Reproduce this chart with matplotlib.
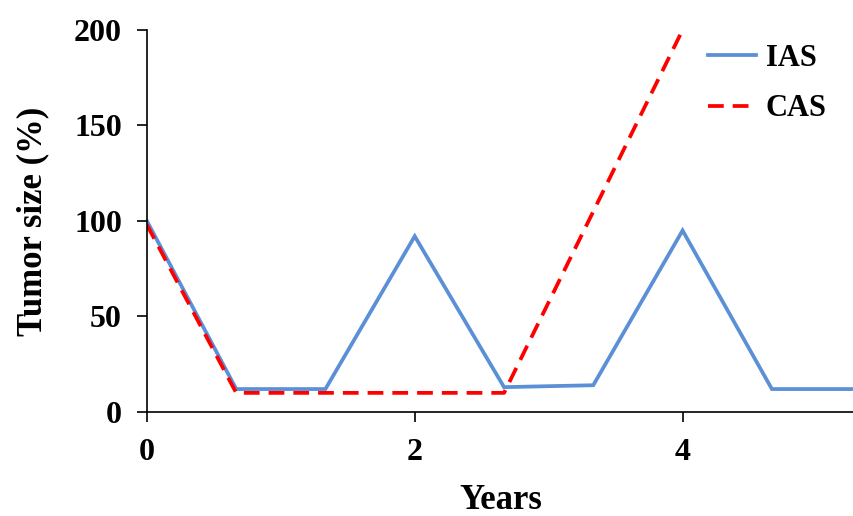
import matplotlib
matplotlib.use('Agg')
import matplotlib.pyplot as plt

plt.rcParams['font.family'] = ['Liberation Serif', 'DejaVu Serif']
plt.rcParams['font.weight'] = 'bold'

# data
ias_x = [0, 0.667, 1.333, 2.0, 2.667, 3.333, 4.0, 4.667, 5.4]
ias_y = [100, 12, 12, 92, 13, 14, 95, 12, 12]
cas_x = [0, 0.667, 2.667, 4.0]
cas_y = [98, 10, 10, 200]
xticks = [0, 2, 4]
yticks = [0, 50, 100, 150, 200]

fig = plt.figure(figsize=(8.54, 5.16), dpi=100)
ax = fig.add_axes([0.172, 0.2016, 0.828, 0.7404])
ax.plot(ias_x, ias_y, color='#5b8fd6', lw=2.7, label='IAS', solid_joinstyle='miter')
ax.plot(cas_x, cas_y, color='#ff0000', lw=2.7, ls=(0, (4.2, 2.4)), label='CAS')

ax.set_xlim(0, 5.28)
ax.set_ylim(0, 200)
ax.set_xticks(xticks)
ax.set_yticks(yticks)
ax.spines['top'].set_visible(False)
ax.spines['right'].set_visible(False)
for s in ['left', 'bottom']:
    ax.spines[s].set_linewidth(1.2)
ax.tick_params(axis='both', direction='out', length=7, width=1.2, labelsize=23)
ax.tick_params(axis='y', pad=11)
ax.tick_params(axis='x', pad=12)
ax.set_xlabel('Years', fontsize=25, fontweight='bold', labelpad=12)
ax.set_ylabel('Tumor size (%)', fontsize=25, fontweight='bold', labelpad=18)

ax.legend(loc='upper right', bbox_to_anchor=(1.0, 1.035), frameon=False, fontsize=22,
          handlelength=1.6, labelspacing=0.7, handletextpad=0.3)

plt.savefig('out.png', dpi=100)
